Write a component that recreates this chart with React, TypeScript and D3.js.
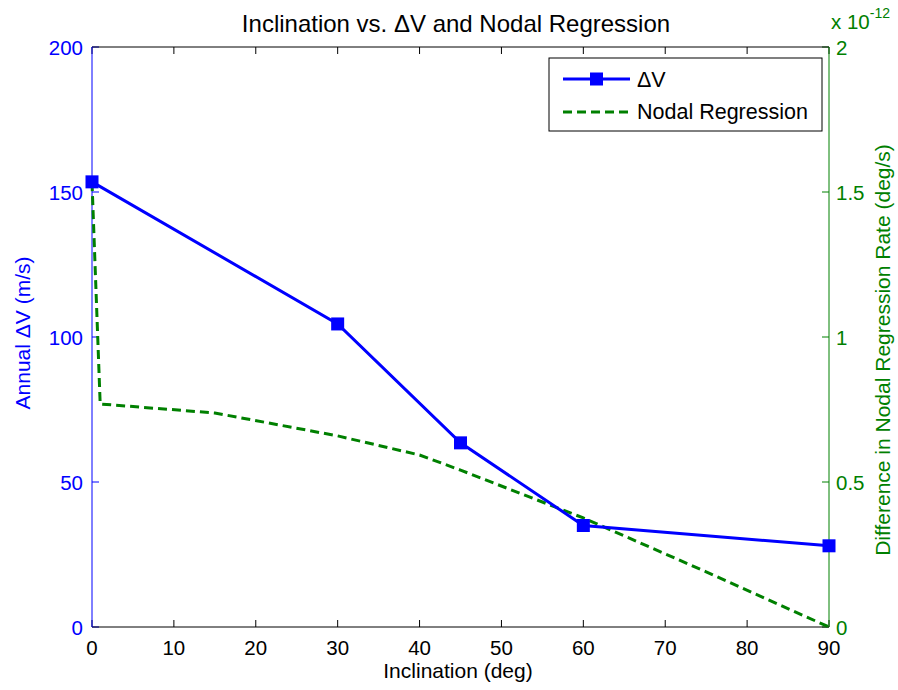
import React from 'react';
import * as d3 from 'd3';

// inclination (deg) vs annual delta-V (m/s)
const dvInc = [0, 30, 45, 60, 90];
const dvVal = [153.5, 104.5, 63.5, 35, 28];

// inclination (deg) vs nodal regression difference (x 1e-12 deg/s)
const nrInc = [0, 1, 15, 30, 40, 45, 60, 75, 90];
const nrVal = [1.534, 0.769, 0.738, 0.659, 0.593, 0.541, 0.376, 0.19, 0];

const xTicks = [0, 10, 20, 30, 40, 50, 60, 70, 80, 90];
const yLeftTicks = [0, 50, 100, 150, 200];
const yRightTicks = [0, 0.5, 1, 1.5, 2];
const yRightLabels = ['0', '0.5', '1', '1.5', '2'];

const W = 898;
const H = 690;
const m = { left: 92, right: 829, top: 47, bottom: 627 };
const BLUE = '#0000ff';
const GREEN = '#008000';
const FONT = 'Liberation Sans, Arial, Helvetica, sans-serif';

export default function App() {
  const x = d3.scaleLinear().domain([0, 90]).range([m.left, m.right]);
  const yL = d3.scaleLinear().domain([0, 200]).range([m.bottom, m.top]);
  const yR = d3.scaleLinear().domain([0, 2]).range([m.bottom, m.top]);

  const dvLine = d3.line<number>().x((d, i) => x(dvInc[i])).y(d => yL(d))(dvVal) || '';
  const nrLine = d3.line<number>().x((d, i) => x(nrInc[i])).y(d => yR(d))(nrVal) || '';

  const tk = 7;
  const fs = 20.5;
  const lfs = 21;

  return (
    <svg width={W} height={H} style={{ position: 'absolute', left: 0, top: 0, background: '#fff' }} fontFamily={FONT}>
      <rect x={0} y={0} width={W} height={H} fill="#fff" />
      <rect x={m.left} y={m.top} width={m.right - m.left} height={m.bottom - m.top} fill="#fff" />

      {/* x ticks bottom and top */}
      {xTicks.map(t => (
        <g key={'x' + t}>
          <line x1={x(t)} x2={x(t)} y1={m.bottom} y2={m.bottom - tk} stroke="#000" />
          <line x1={x(t)} x2={x(t)} y1={m.top} y2={m.top + tk} stroke="#000" />
          <text x={x(t)} y={m.bottom + 28} textAnchor="middle" fontSize={fs} fill="#000">{t}</text>
        </g>
      ))}

      {/* left ticks */}
      {yLeftTicks.map(t => (
        <g key={'l' + t}>
          <line x1={m.left} x2={m.left + tk} y1={yL(t)} y2={yL(t)} stroke={BLUE} />
          <text x={m.left - 9} y={yL(t) + 7.5} textAnchor="end" fontSize={fs} fill={BLUE}>{t}</text>
        </g>
      ))}

      {/* right ticks */}
      {yRightTicks.map((t, i) => (
        <g key={'r' + t}>
          <line x1={m.right} x2={m.right - tk} y1={yR(t)} y2={yR(t)} stroke={GREEN} />
          <text x={m.right + 7} y={yR(t) + 7.5} textAnchor="start" fontSize={fs} fill={GREEN}>{yRightLabels[i]}</text>
        </g>
      ))}

      {/* axes lines */}
      <line x1={m.left} x2={m.right} y1={m.top} y2={m.top} stroke="#000" />
      <line x1={m.left} x2={m.right} y1={m.bottom} y2={m.bottom} stroke="#000" />
      <line x1={m.left} x2={m.left} y1={m.top} y2={m.bottom} stroke={BLUE} />
      <line x1={m.right} x2={m.right} y1={m.top} y2={m.bottom} stroke={GREEN} />

      {/* data */}
      <path d={nrLine} fill="none" stroke={GREEN} strokeWidth={3} strokeDasharray="9,5" />
      <path d={dvLine} fill="none" stroke={BLUE} strokeWidth={3} />
      {dvVal.map((v, i) => (
        <rect key={'mk' + i} x={x(dvInc[i]) - 6.5} y={yL(v) - 6.5} width={13} height={13} fill={BLUE} />
      ))}

      {/* legend */}
      <rect x={549} y={58} width={273} height={73} fill="#fff" stroke="#000" />
      <line x1={563} x2={630} y1={79} y2={79} stroke={BLUE} strokeWidth={3} />
      <rect x={590} y={72.5} width={13} height={13} fill={BLUE} />
      <text x={637} y={87} fontSize={21.5} fill="#000">ΔV</text>
      <line x1={563} x2={630} y1={112} y2={112} stroke={GREEN} strokeWidth={3} strokeDasharray="9,5" />
      <text x={637} y={119} fontSize={21.5} fill="#000">Nodal Regression</text>

      {/* titles */}
      <text x={456} y={32} textAnchor="middle" fontSize={24} fill="#000">Inclination vs. ΔV and Nodal Regression</text>
      <text x={458} y={678} textAnchor="middle" fontSize={lfs} fill="#000">Inclination (deg)</text>
      <text transform={`translate(30,${(m.top + m.bottom) / 2 - 4}) rotate(-90)`} textAnchor="middle" fontSize={lfs} fill={BLUE}>Annual ΔV (m/s)</text>
      <text transform={`translate(890,${(m.top + m.bottom) / 2 + 13}) rotate(-90)`} textAnchor="middle" fontSize={lfs} fill={GREEN}>Difference in Nodal Regression Rate (deg/s)</text>
      <text x={831} y={29} fontSize={fs} fill={GREEN}>x 10<tspan dy={-11} fontSize={14}>-12</tspan></text>
    </svg>
  );
}
